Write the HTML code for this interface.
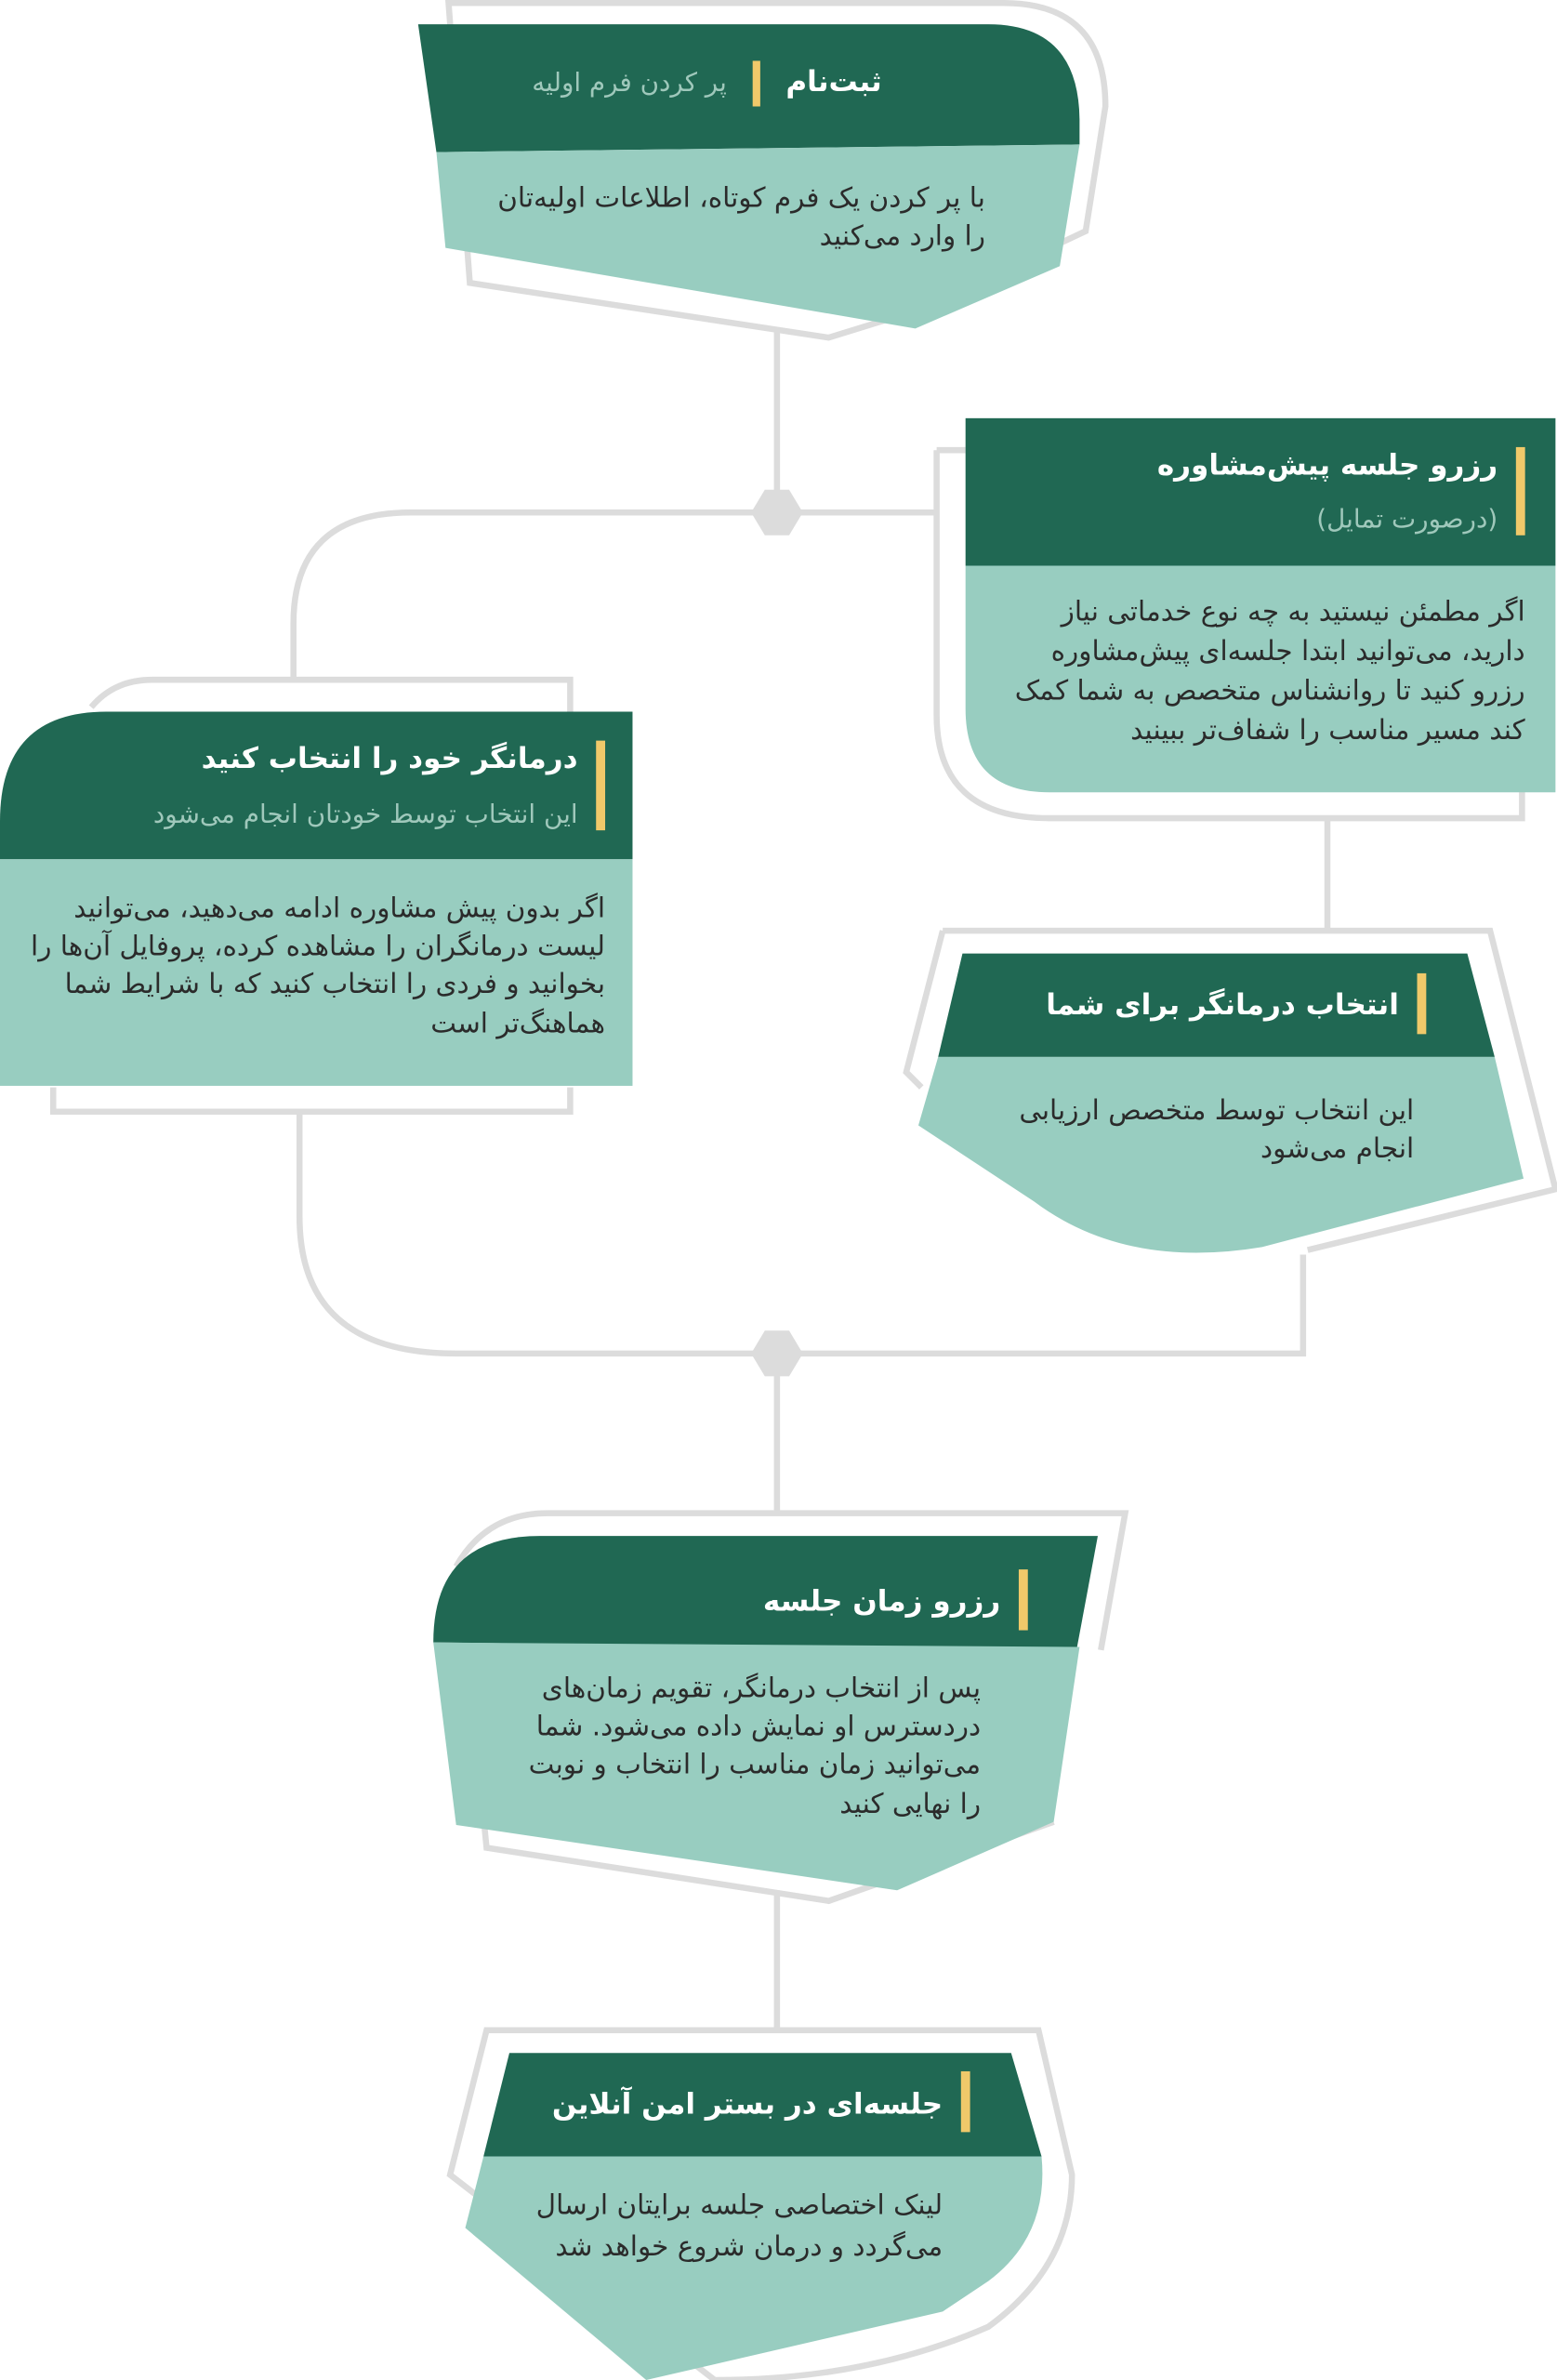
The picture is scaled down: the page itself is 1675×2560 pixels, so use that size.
<!DOCTYPE html>
<html><head><meta charset="utf-8"><style>
html,body{margin:0;padding:0;background:#fff;}
svg{display:block}
text{font-family:"DejaVu Sans","Liberation Sans",sans-serif;direction:rtl;}
.t{fill:#fff;font-weight:bold;font-size:19px}
.s{fill:#9fc8bb;font-size:17px}
.b{fill:#2b2b2b;font-size:18px}
</style></head><body>
<svg width="1675" height="2560" viewBox="0 0 1024 1565" preserveAspectRatio="none" xmlns="http://www.w3.org/2000/svg">
<g fill="none" stroke="#dcdcdc" stroke-width="4">
<path d="M295,2 L660,2 Q727,2 727,70 L714,152 L697,160 L600,205 L545,222 L309,186 Z"/>
<path d="M511,216 L511,337"/>
<path d="M511,337 L616,337 M616,296 L635,296 M616,296 L616,470 Q616,538 690,538 L1001,538 L1001,520"/>
<path d="M511,337 L270,337 Q193,337 193,410 L193,447"/>
<path d="M873,538 L873,612"/>
<path d="M197,731 L197,800 Q197,890 300,890 L857,890 L857,825"/>
<path d="M511,890 L511,995"/>
<path d="M511,1243 L511,1335"/>
<path d="M35,715 L35,731 L375,731 L375,715 M375,468 L375,447 L100,447 Q75,447 60,465"/>
<path d="M620,612 L980,612 L1023,782 L860,822 M620,612 L596,705 L606,715"/>
<path d="M300,1030 Q320,995 360,995 L740,995 L724,1085 M693,1198 L545,1250 L320,1215 L318,1195"/>
<path d="M320,1335 L683,1335 L705,1430 Q705,1490 650,1530 Q570,1565 470,1565 L296,1430 L320,1335 Z"/>
</g>
<polygon points="503,322 519,322 528,337 519,352 503,352 494,337" fill="#dcdcdc"/>
<polygon points="503,875 519,875 528,890 519,905 503,905 494,890" fill="#dcdcdc"/>

<path d="M275,16 L650,16 Q710,16 710,80 L710,95 L287,100 Z" fill="#206853"/>
<path d="M287,100 L710,95 L697,175 L602,216 L293,163 Z" fill="#98cdc0"/>
<rect x="495" y="40" width="5" height="30" fill="#f0c96a"/>
<text x="580" y="60" class="t" text-anchor="start">ثبت‌نام</text>
<text x="478" y="60" class="s" text-anchor="start">پر کردن فرم اولیه</text>
<text x="648" y="136" class="b" font-size="17" text-anchor="start">با پر کردن یک فرم کوتاه، اطلاعات اولیه‌تان</text>
<text x="648" y="161" class="b" font-size="17" text-anchor="start">را وارد می‌کنید</text>

<rect x="635" y="275" width="388" height="97" fill="#206853"/>
<path d="M635,372 L1023,372 L1023,521 L690,521 Q635,521 635,466 Z" fill="#98cdc0"/>
<rect x="997" y="294" width="6" height="58" fill="#f0c96a"/>
<text x="985" y="312" class="t" text-anchor="start">رزرو جلسه پیش‌مشاوره</text>
<text x="985" y="347" class="s" text-anchor="start">(درصورت تمایل)</text>
<text x="1003" y="408" class="b" text-anchor="start">اگر مطمئن نیستید به چه نوع خدماتی نیاز</text>
<text x="1003" y="434" class="b" text-anchor="start">دارید، می‌توانید ابتدا جلسه‌ای پیش‌مشاوره</text>
<text x="1003" y="460" class="b" text-anchor="start">رزرو کنید تا روانشناس متخصص به شما کمک</text>
<text x="1003" y="486" class="b" text-anchor="start">کند مسیر مناسب را شفاف‌تر ببینید</text>

<path d="M0,540 Q0,468 70,468 L416,468 L416,565 L0,565 Z" fill="#206853"/>
<rect x="0" y="565" width="416" height="149" fill="#98cdc0"/>
<rect x="392" y="487" width="6" height="59" fill="#f0c96a"/>
<text x="380" y="505" class="t" text-anchor="start">درمانگر خود را انتخاب کنید</text>
<text x="380" y="541" class="s" text-anchor="start">این انتخاب توسط خودتان انجام می‌شود</text>
<text x="398" y="603" class="b" text-anchor="start">اگر بدون پیش مشاوره ادامه می‌دهید، می‌توانید</text>
<text x="398" y="628" class="b" text-anchor="start">لیست درمانگران را مشاهده کرده، پروفایل آن‌ها را</text>
<text x="398" y="653" class="b" text-anchor="start">بخوانید و فردی را انتخاب کنید که با شرایط شما</text>
<text x="398" y="679" class="b" text-anchor="start">هماهنگ‌تر است</text>

<path d="M633,627 L965,627 L983,695 L617,695 Z" fill="#206853"/>
<path d="M617,695 L983,695 L1002,775 L830,820 Q740,835 680,790 L604,740 Z" fill="#98cdc0"/>
<rect x="932" y="640" width="6" height="40" fill="#f0c96a"/>
<text x="920" y="667" class="t" text-anchor="start">انتخاب درمانگر برای شما</text>
<text x="930" y="736" class="b" text-anchor="start">این انتخاب توسط متخصص ارزیابی</text>
<text x="930" y="761" class="b" text-anchor="start">انجام می‌شود</text>

<path d="M285,1080 Q285,1010 355,1010 L722,1010 L708,1085 Z" fill="#206853"/>
<path d="M285,1080 L710,1083 L693,1198 L590,1243 L300,1200 Z" fill="#98cdc0"/>
<rect x="670" y="1032" width="6" height="40" fill="#f0c96a"/>
<text x="658" y="1059" class="t" text-anchor="start">رزرو زمان جلسه</text>
<text x="645" y="1116" class="b" text-anchor="start">پس از انتخاب درمانگر، تقویم زمان‌های</text>
<text x="645" y="1141" class="b" text-anchor="start">دردسترس او نمایش داده می‌شود. شما</text>
<text x="645" y="1166" class="b" text-anchor="start">می‌توانید زمان مناسب را انتخاب و نوبت</text>
<text x="645" y="1192" class="b" text-anchor="start">را نهایی کنید</text>

<path d="M335,1350 L665,1350 L685,1418 L318,1418 Z" fill="#206853"/>
<path d="M318,1418 L685,1418 Q690,1470 650,1500 L620,1520 L425,1565 L306,1465 Z" fill="#98cdc0"/>
<rect x="632" y="1362" width="6" height="40" fill="#f0c96a"/>
<text x="620" y="1390" class="t" text-anchor="start">جلسه‌ای در بستر امن آنلاین</text>
<text x="620" y="1456" class="b" font-size="15" text-anchor="start">لینک اختصاصی جلسه برایتان ارسال</text>
<text x="620" y="1483" class="b" font-size="15" text-anchor="start">می‌گردد و درمان شروع خواهد شد</text>
</svg>
</body></html>
